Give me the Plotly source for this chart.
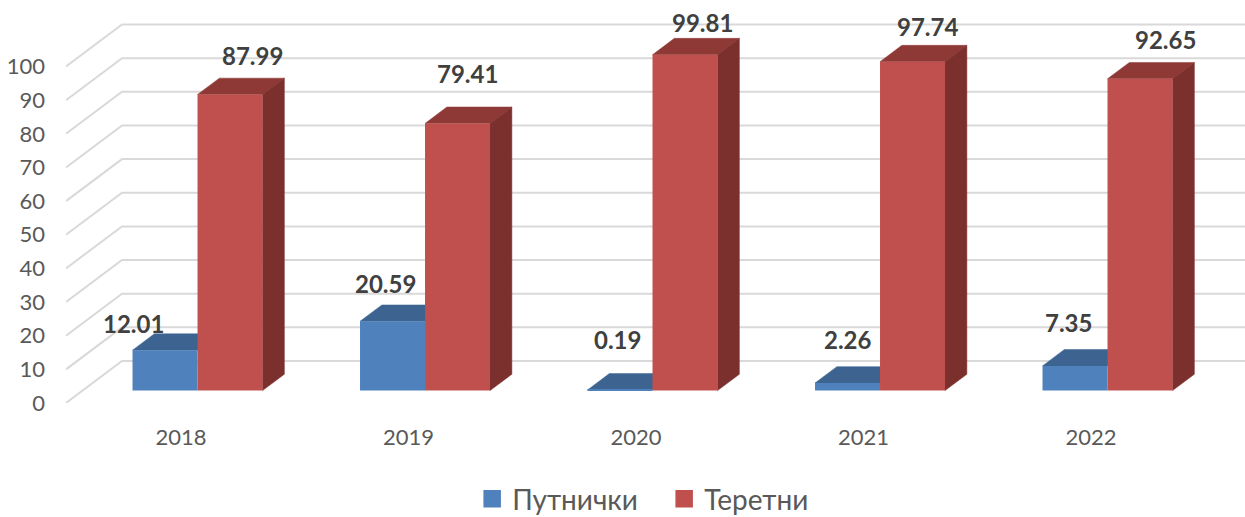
import plotly.graph_objects as go

years = ["2018", "2019", "2020", "2021", "2022"]
passenger = [12.01, 20.59, 0.19, 2.26, 7.35]
freight = [87.99, 79.41, 99.81, 97.74, 92.65]
y_ticks = list(range(0, 101, 10))
names = ["Путнички", "Теретни"]

# projection of the oblique "3D" view, in axis units
X_UNIT = 227.5
Y_UNIT = 3.365
DX = 56 / X_UNIT          # full floor depth, horizontally
DY = 42 / Y_UNIT          # full floor depth, vertically
D0 = 0.295                # bar front plane, as a fraction of the floor depth
DB = 0.39                 # bar depth, same fraction
W = 65 / X_UNIT           # bar width
XMIN, XMAX = (66 - 181) / X_UNIT, (1245 - 181) / X_UNIT
YMAX = 403 / Y_UNIT
FONT = "Lato, 'Open Sans', sans-serif"

BLUE, BLUE_TOP = "#4F81BD", "#3D6491"
RED, RED_TOP, RED_SIDE = "#C0504D", "#8F3937", "#7C302E"

# label offsets in pixels from the top of each bar's front face
pass_off = [(-32, 27), (-7, 38), (-3, 50), (0, 44), (-7, 43)]
frei_off = [(22, 39), (10, 50), (17, 32), (15, 35), (25, 39)]

fig = go.Figure()

# walls: one gridline per tick
for t in y_ticks:
    fig.add_trace(go.Scatter(
        x=[XMIN, XMIN + DX, XMAX], y=[t, t + DY, t + DY], mode="lines",
        line=dict(color="#D9D9D9", width=2), showlegend=False,
        hoverinfo="skip", cliponaxis=False, zorder=0))


def poly(xs, ys, color, z):
    fig.add_trace(go.Scatter(
        x=xs, y=ys, mode="lines", fill="toself", fillcolor=color,
        line=dict(color=color, width=0.5), showlegend=False,
        hoverinfo="skip", zorder=z))


fx = D0 * DX
fy = D0 * DY
bx = DB * DX
by = DB * DY

for i, v in enumerate(passenger):
    xl, xr = i + fx - W, i + fx
    top = fy + v
    poly([xl, xr, xr + bx, xl + bx, xl], [top, top, top + by, top + by, top], BLUE_TOP, 1)

for i, v in enumerate(freight):
    xl, xr = i + fx, i + fx + W
    top = fy + v
    poly([xl, xr, xr + bx, xl + bx, xl], [top, top, top + by, top + by, top], RED_TOP, 3)
    poly([xr, xr + bx, xr + bx, xr, xr], [fy, fy + by, top + by, top, fy], RED_SIDE, 3)

fig.add_trace(go.Bar(
    x=[i + fx - W / 2 for i in range(len(years))], y=passenger,
    base=fy, width=W, marker=dict(color=BLUE, line=dict(width=0)),
    showlegend=False, zorder=2))
fig.add_trace(go.Bar(
    x=[i + fx + W / 2 for i in range(len(years))], y=freight,
    base=fy, width=W, marker=dict(color=RED, line=dict(width=0)),
    showlegend=False, zorder=4))

# legend swatches
for name, col in zip(names, [BLUE, RED]):
    fig.add_trace(go.Scatter(
        x=[None], y=[None], mode="markers", name=name,
        marker=dict(symbol="square", size=16, color=col, line=dict(color=col, width=1.5))))

for i, (v, (dx, dy)) in enumerate(zip(passenger, pass_off)):
    fig.add_annotation(x=i + fx - W / 2, y=fy + v, text=f"{v:.2f}", showarrow=False,
                       xshift=dx, yshift=dy, xanchor="center", yanchor="middle",
                       font=dict(family=FONT, size=24, color="#404040", weight="bold"))
for i, (v, (dx, dy)) in enumerate(zip(freight, frei_off)):
    fig.add_annotation(x=i + fx + W / 2, y=fy + v, text=f"{v:.2f}", showarrow=False,
                       xshift=dx, yshift=dy, xanchor="center", yanchor="middle",
                       font=dict(family=FONT, size=24, color="#404040", weight="bold"))

fig.update_layout(
    width=1245, height=517,
    margin=dict(l=66, r=0, t=0, b=114, autoexpand=False),
    paper_bgcolor="white", plot_bgcolor="white",
    barmode="overlay",
    font=dict(family=FONT, color="#595959"),
    showlegend=True,
    legend=dict(orientation="h", x=0.3445, xanchor="left",
                y=-0.2383, yanchor="middle", entrywidth=147, entrywidthmode="pixels",
                font=dict(family=FONT, size=28, color="#595959")),
    xaxis=dict(range=[XMIN, XMAX], tickmode="array", tickvals=list(range(len(years))),
               ticktext=years, showgrid=False, zeroline=False, showline=False,
               ticks="", ticklabelstandoff=19, tickfont=dict(family=FONT, size=22, color="#595959")),
    yaxis=dict(range=[0, YMAX], tickmode="array", tickvals=y_ticks,
               ticktext=[str(t) for t in y_ticks], showgrid=False, zeroline=False, showline=False,
               ticks="", ticklabelstandoff=20, tickfont=dict(family=FONT, size=22, color="#595959")),
)

fig.write_html("out.html", config=dict(displayModeBar=False),
               post_script="document.body.style.margin='0';")
